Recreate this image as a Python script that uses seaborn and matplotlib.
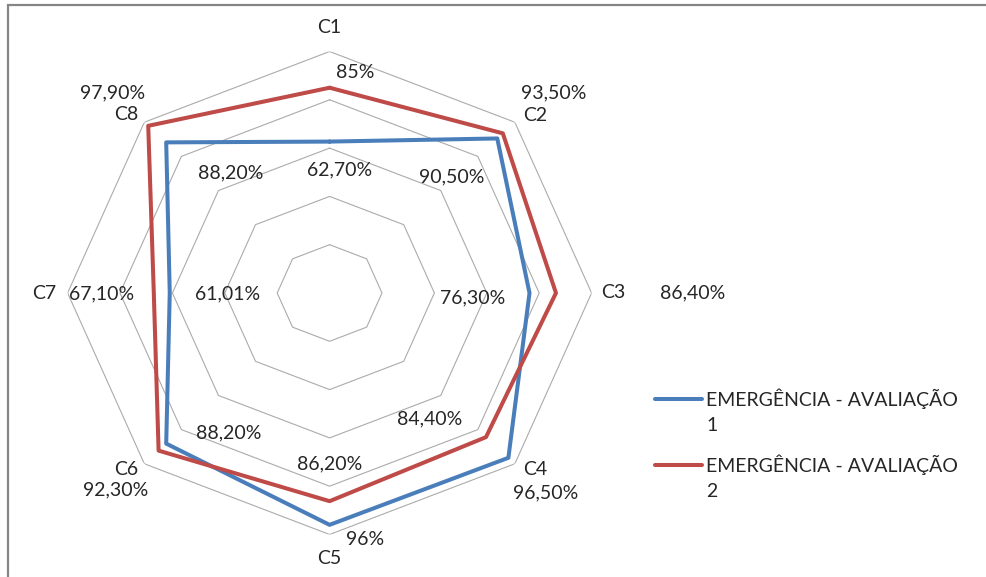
import numpy as np
import pandas as pd
import matplotlib
matplotlib.use("Agg")
import matplotlib.pyplot as plt
from matplotlib.lines import Line2D
from matplotlib.patches import Rectangle
import seaborn as sns

# ---- data -------------------------------------------------------------
categories = ["C1", "C2", "C3", "C4", "C5", "C6", "C7", "C8"]
series_names = ["EMERGÊNCIA - AVALIAÇÃO 1", "EMERGÊNCIA - AVALIAÇÃO 2"]
avaliacao_1 = [62.70, 90.50, 76.30, 96.50, 96.00, 88.20, 61.01, 88.20]
avaliacao_2 = [85.00, 93.50, 86.40, 84.40, 86.20, 92.30, 67.10, 97.90]
ring_levels = [20, 40, 60, 80, 100]

# ---- styling / placement ---------------------------------------------
W, H = 987, 577
BLUE = "#4A7EBB"
RED = "#BE4B48"
TEXT = "#262626"
GRID = "#ababab"
FONT = "Lato"
FS = 14

# label offsets in pixels (dx, dy with y pointing up) from each vertex
cat_offsets = [(0, 24), (20, 7), (22, 0), (20, -6), (0, -24), (-18, -6), (-23, 0), (-18, 8)]
off_1 = [(10, -28), (-46, -38), (-57, -5), (37, -35), (35, -15), (62, 11), (58, -1), (64, -30)]
off_2 = [(26, 15), (51, 40), (137, 0), (-56, 18), (0, 37), (-43, -39), (-52, -1), (-36, 33)]

sns.set_theme(style="white")
plt.rcParams["font.family"] = [FONT, "DejaVu Sans"]

fig = plt.figure(figsize=(W / 100, H / 100), dpi=100)
fig.patch.set_facecolor("white")

# chart-area frame (runs off the right and bottom edges)
fig.add_artist(Rectangle((8 / W, -0.1), 1.2, 1 - 5 / H + 0.1,
                         transform=fig.transFigure, fill=False,
                         edgecolor="#858585", linewidth=1.6))

# polar axes stretched horizontally (box is wider than tall)
cx, cy, rx, ry = 329.6, 293.0, 262.0, 241.5
ax = fig.add_axes([(cx - rx) / W, (H - (cy + ry)) / H, 2 * rx / W, 2 * ry / H],
                  projection="polar")
ax.set_aspect("auto")
ax.set_theta_zero_location("N")
ax.set_theta_direction(-1)
ax.set_ylim(0, 100)
ax.grid(False)
ax.spines["polar"].set_visible(False)
ax.set_xticks([])
ax.set_yticks([])
ax.patch.set_alpha(0)

n = len(categories)
theta = np.linspace(0, 2 * np.pi, n, endpoint=False)
theta_closed = np.append(theta, 2 * np.pi)

# octagonal grid rings
for lvl in ring_levels:
    ax.plot(theta_closed, [lvl] * (n + 1), color=GRID, lw=0.8, zorder=1)

# series, long-form and closed
frames = []
for name, vals in zip(series_names, [avaliacao_1, avaliacao_2]):
    frames.append(pd.DataFrame({
        "theta": theta_closed,
        "valor": list(vals) + [vals[0]],
        "serie": name,
    }))
df = pd.concat(frames, ignore_index=True)
sns.lineplot(data=df, x="theta", y="valor", hue="serie", units="serie",
             estimator=None, sort=False, palette=[BLUE, RED], lw=2.9,
             legend=False, ax=ax, zorder=3)
ax.set_xlabel("")
ax.set_ylabel("")
ax.set_ylim(0, 100)


def fmt(v):
    if float(v).is_integer():
        return f"{int(v)}%"
    return f"{v:.2f}%".replace(".", ",")


# category labels
for t, lab, (dx, dy) in zip(theta, categories, cat_offsets):
    ax.annotate(lab, xy=(t, 100), xytext=(dx, dy), textcoords="offset pixels",
                ha="center", va="center", fontsize=FS, color=TEXT,
                annotation_clip=False)

# data labels
for vals, offs in [(avaliacao_1, off_1), (avaliacao_2, off_2)]:
    for t, v, (dx, dy) in zip(theta, vals, offs):
        ax.annotate(fmt(v), xy=(t, v), xytext=(dx, dy), textcoords="offset pixels",
                    ha="center", va="center", fontsize=FS, color=TEXT,
                    annotation_clip=False)

# legend on the right
leg_rows = [398.5, 464.5]
for name, col, y in zip(series_names, [BLUE, RED], leg_rows):
    fig.add_artist(Line2D([655 / W, 702 / W], [1 - y / H, 1 - y / H],
                          transform=fig.transFigure, color=col, lw=2.9))
    head, tail = name.rsplit(" ", 1)
    fig.text(706.5 / W, 1 - (y - 10) / H, head + "\n" + tail, ha="left", va="top",
             fontsize=FS, color=TEXT, linespacing=1.6,
             transform=fig.transFigure)

fig.savefig("out.png", dpi=100, facecolor="white")
